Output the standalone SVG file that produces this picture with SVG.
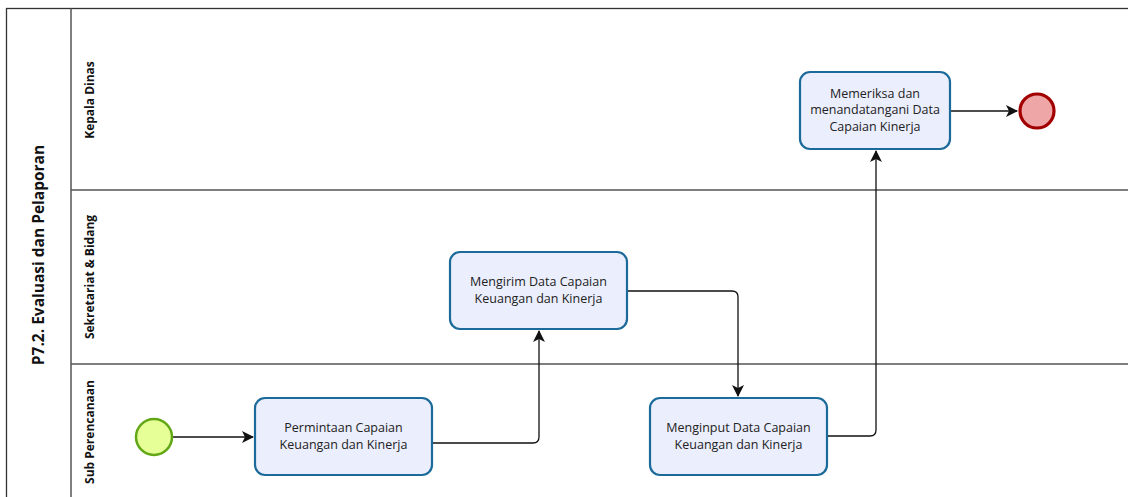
<svg xmlns="http://www.w3.org/2000/svg" width="1128" height="497" viewBox="0 0 1128 497">
<defs>
<style>
.pool{fill:#fff;stroke:#333;stroke-width:1.3}
.lane{stroke:#555;stroke-width:1.5;fill:none}
.task{fill:#ebeefd;stroke:#1b6a9a;stroke-width:2.2}
.t{font-family:"Open Sans","Noto Sans",sans-serif;font-size:12.5px;fill:#222;text-anchor:middle}
.h{font-family:"Open Sans","Noto Sans",sans-serif;font-weight:bold;fill:#111;text-anchor:middle}
.c{fill:none;stroke:#111;stroke-width:1.3}
</style>
<marker id="arr" markerWidth="12" markerHeight="12" viewBox="0 0 12 12" refX="11" refY="6" orient="auto" markerUnits="userSpaceOnUse">
<path d="M0,0 L12,6 L0,12 L3,6 Z" fill="#111"/>
</marker>
</defs>
<rect width="1128" height="497" fill="#fff"/>
<g id="pool">
<rect class="pool" x="6.5" y="8.5" width="1130" height="500"/>
<line class="lane" x1="71" y1="8.5" x2="71" y2="497"/>
<line class="lane" x1="71" y1="190" x2="1128" y2="190"/>
<line class="lane" x1="71" y1="364" x2="1128" y2="364"/>
<text class="h" font-size="15.5" transform="translate(44,255) rotate(-90)">P7.2. Evaluasi dan Pelaporan</text>
<text class="h" font-size="12" transform="translate(94,100) rotate(-90)">Kepala Dinas</text>
<text class="h" font-size="12" transform="translate(94,277) rotate(-90)">Sekretariat &amp; Bidang</text>
<text class="h" font-size="12" transform="translate(94,432) rotate(-90)">Sub Perencanaan</text>
</g>
<g id="connectors">
<path class="c" d="M173,437 L253,437" marker-end="url(#arr)"/>
<path class="c" d="M432,443 L533,443 Q539,443 539,437 L539,331" marker-end="url(#arr)"/>
<path class="c" d="M627,291 L732,291 Q738,291 738,297 L738,396" marker-end="url(#arr)"/>
<path class="c" d="M827,436 L870,436 Q876,436 876,430 L876,151" marker-end="url(#arr)"/>
<path class="c" d="M950,111 L1017,111" marker-end="url(#arr)"/>
</g>
<g id="start">
<circle cx="154" cy="437" r="18" fill="#e6ff97" stroke="#62a716" stroke-width="2.5"/>
</g>
<g id="task1">
<rect class="task" x="255" y="398" width="177" height="77" rx="10"/>
<text class="t" x="343.5" y="432">Permintaan Capaian</text>
<text class="t" x="343.5" y="448.5">Keuangan dan Kinerja</text>
</g>
<g id="task2">
<rect class="task" x="450" y="252" width="177" height="77" rx="10"/>
<text class="t" x="538.5" y="286">Mengirim Data Capaian</text>
<text class="t" x="538.5" y="302.5">Keuangan dan Kinerja</text>
</g>
<g id="task3">
<rect class="task" x="650" y="398" width="177" height="77" rx="10"/>
<text class="t" x="738.5" y="432">Menginput Data Capaian</text>
<text class="t" x="738.5" y="448.5">Keuangan dan Kinerja</text>
</g>
<g id="task4">
<rect class="task" x="800" y="72" width="150" height="77" rx="10"/>
<text class="t" x="875" y="97.5">Memeriksa dan</text>
<text class="t" x="875" y="114">menandatangani Data</text>
<text class="t" x="875" y="130.5">Capaian Kinerja</text>
</g>
<g id="end">
<circle cx="1037" cy="111" r="17" fill="#eea6a6" stroke="#a20000" stroke-width="3.2"/>
</g>
</svg>
